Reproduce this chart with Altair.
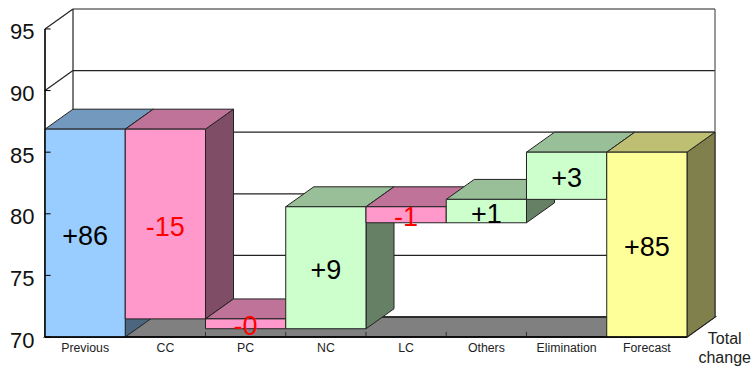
import altair as alt
import pandas as pd

# Bridge from the previous figure to the forecast
categories = ["Previous", "CC", "PC", "NC", "LC", "Others", "Elimination", "Forecast"]
previous = 86.87
changes = [-15.4, -0.8, 9.9, -1.3, 1.9, 3.83]
forecast = 85.0
y_ticks = [70, 75, 80, 85, 90, 95]

FRONT = {"blue": "#99CCFF", "pink": "#FF99CC", "green": "#CCFFCC", "yellow": "#FFFF99"}
TOP = {"blue": "#7399BF", "pink": "#BF7399", "green": "#99BF99", "yellow": "#BFBF73"}
SIDE = {"blue": "#4D6680", "pink": "#804D66", "green": "#668066", "yellow": "#80804D"}

# Oblique depth of the 3D box, in data units of each axis
DX = 0.349
DY = 1.62
BASE = 70
X_MAX = len(categories) + DX
Y_MAX = 95 + DY
EDGE = "#222222"

x_scale = alt.Scale(domain=[0, X_MAX], nice=False, zero=False)
y_scale = alt.Scale(domain=[BASE, Y_MAX], nice=False, zero=False)
value_axis = alt.Axis(values=y_ticks, ticks=False, domain=False, grid=False, title=None,
                      labelFontSize=22, labelFont="Liberation Sans", labelColor="#111111",
                      labelPadding=11, labelOffset=3)


def X(field="x"):
    return alt.X(field, type="quantitative", scale=x_scale, axis=None)


def Y(field="y"):
    return alt.Y(field, type="quantitative", scale=y_scale, axis=value_axis)


def signed_label(v):
    # Labels show the whole-number part with an explicit sign
    whole = abs(int(v))
    return ("+" if v >= 0 else "-") + str(whole)


# Bar extents: (low, high, colour, label, text colour)
bars = [(BASE, previous, "blue", signed_label(previous), "black")]
level = previous
for delta in changes:
    low, high = sorted((level, level + delta))
    bars.append((low, high, "green" if delta >= 0 else "pink", signed_label(delta),
                 "black" if delta >= 0 else "#FF0000"))
    level += delta
bars.append((BASE, forecast, "yellow", signed_label(forecast), "black"))

layers = []

# Back wall, left wall and their grid lines
frame = []
def add_line(name, points):
    for i, (px, py) in enumerate(points):
        frame.append({"id": name, "step": i, "x": px, "y": py})

add_line("left", [(0, BASE), (0, 95)])
add_line("back", [(DX, BASE + DY), (DX, Y_MAX)])
for t in y_ticks:
    add_line(f"diag{t}", [(0, t), (DX, t + DY)])
    add_line(f"grid{t}", [(DX, t + DY), (X_MAX, t + DY)])

wall = alt.Chart(pd.DataFrame(frame)).mark_line(color="#222222", strokeWidth=1.2).encode(
    x=X(), y=Y(), detail="id:N", order="step:Q")
right_edge = alt.Chart(pd.DataFrame({"x": [X_MAX, X_MAX], "y": [BASE + DY, Y_MAX]})).mark_line(
    color="#555555", strokeWidth=1.2).encode(x=X(), y=Y())
layers += [wall, right_edge]

# Floor
floor = alt.Chart(pd.DataFrame({
    "x": [0, DX], "x2": [len(categories), len(categories) + DX], "y": [BASE, BASE + DY]
})).mark_area(orient="horizontal", color="#808080", stroke="#111111", strokeWidth=1.4).encode(
    x=X(), x2="x2:Q", y=Y())
floor_ticks = alt.Chart(pd.DataFrame({"x": list(range(1, len(categories))), "y": [BASE] * 7, "y2": [BASE + 0.42] * 7})).mark_rule(
    color="#333333", strokeWidth=1).encode(x=X(), y=Y(), y2="y2:Q")
layers += [floor, floor_ticks]

# Boxes, painted from left to right so later ones overlap earlier sides
for i, (low, high, tone, _, _) in enumerate(bars):
    side = pd.DataFrame({"x": [i + 1, i + 1 + DX], "y": [low, low + DY], "y2": [high, high + DY]})
    top = pd.DataFrame({"x": [i, i + DX], "x2": [i + 1, i + 1 + DX], "y": [high, high + DY]})
    front = pd.DataFrame({"x": [i], "x2": [i + 1], "y": [low], "y2": [high]})
    layers.append(alt.Chart(side).mark_area(orient="vertical", color=SIDE[tone], stroke=EDGE, strokeWidth=1).encode(
        x=X(), y=Y(), y2="y2:Q"))
    layers.append(alt.Chart(top).mark_area(orient="horizontal", color=TOP[tone], stroke=EDGE, strokeWidth=1).encode(
        x=X(), x2="x2:Q", y=Y()))
    layers.append(alt.Chart(front).mark_rect(color=FRONT[tone], stroke=EDGE, strokeWidth=1).encode(
        x=X(), x2="x2:Q", y=Y(), y2="y2:Q"))

# Front axis lines and inward ticks
baseline = alt.Chart(pd.DataFrame({"x": [0, len(categories)], "y": [BASE, BASE]})).mark_line(
    color="black", strokeWidth=1.5).encode(x=X(), y=Y())
axis_line = alt.Chart(pd.DataFrame({"x": [0, 0], "y": [BASE, 95]})).mark_line(
    color="black", strokeWidth=1.2).encode(x=X(), y=Y())
y_tick_marks = alt.Chart(pd.DataFrame({"x": [0] * 6, "x2": [0.07] * 6, "y": y_ticks})).mark_rule(
    color="black", strokeWidth=1).encode(x=X(), x2="x2:Q", y=Y())
layers += [baseline, axis_line, y_tick_marks]

# Value labels at the middle of each box
value_labels = pd.DataFrame({
    "x": [i + 0.5 for i in range(len(bars))],
    "y": [(b[0] + b[1]) / 2 for b in bars],
    "label": [b[3] for b in bars],
    "tint": [b[4] for b in bars],
})
layers.append(alt.Chart(value_labels).mark_text(
    font="Liberation Sans", fontSize=27, align="center", baseline="middle", dy=3.5).encode(
    x=X(), y=Y(), text="label:N", color=alt.Color("tint:N", scale=None)))

# Category labels under the baseline
cat_labels = pd.DataFrame({"x": [i + 0.5 for i in range(len(categories))], "y": [BASE] * len(categories), "label": categories})
layers.append(alt.Chart(cat_labels).mark_text(
    font="Liberation Sans", fontSize=12.3, align="center", baseline="middle", dy=11, color="#222222").encode(
    x=X(), y=Y(), text="label:N"))

# Caption for the depth axis
caption = pd.DataFrame({"x": [8.47, 8.47], "y": [69.84, 68.3], "label": ["Total", "change"]})
layers.append(alt.Chart(caption).mark_text(
    font="Liberation Sans", fontSize=16, align="center", baseline="middle", color="#222222").encode(
    x=X(), y=Y(), text="label:N"))

chart = alt.layer(*layers).properties(
    width=670, height=328,
    padding={"left": 45, "top": 9, "right": 37, "bottom": 30},
    autosize=alt.AutoSizeParams(type="none"),
    background="white",
).configure_view(stroke=None)

chart.save("out.html", embed_options={"renderer": "svg", "actions": False})
